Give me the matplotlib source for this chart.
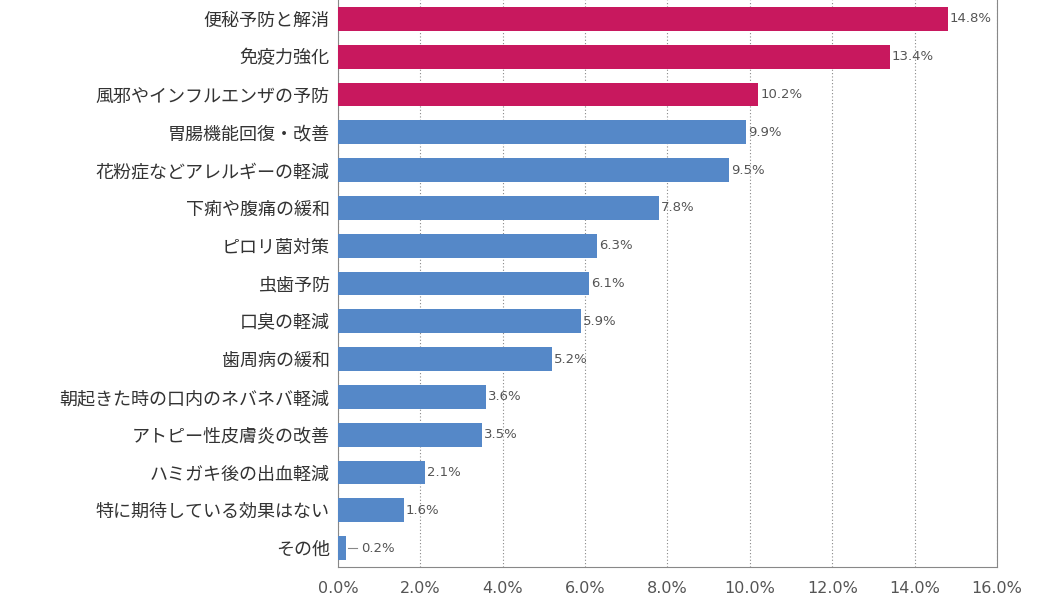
import matplotlib
matplotlib.use("Agg")
import matplotlib.pyplot as plt

categories = ["便秘予防と解消","免疫力強化","風邪やインフルエンザの予防","胃腸機能回復・改善",
              "花粉症などアレルギーの軽減","下痢や腹痛の緩和","ピロリ菌対策","虫歯予防","口臭の軽減",
              "歯周病の緩和","朝起きた時の口内のネバネバ軽減","アトピー性皮膚炎の改善","ハミガキ後の出血軽減",
              "特に期待している効果はない","その他"]
values = [14.8,13.4,10.2,9.9,9.5,7.8,6.3,6.1,5.9,5.2,3.6,3.5,2.1,1.6,0.2]
highlight = 3
xticks = [0,2,4,6,8,10,12,14,16]

plt.rcParams["font.family"] = "Noto Sans CJK JP"
fig = plt.figure(figsize=(10.41,5.99), dpi=100)
ax = fig.add_axes([0.3247,0.0534,0.633,0.9466])
ys = list(range(len(categories)))
colors = ["#C8185E" if i < highlight else "#5588C8" for i in ys]
ax.barh(ys, values, height=0.63, color=colors, zorder=3)
ax.set_ylim(len(categories)-0.5, -0.5)
ax.set_xlim(0,16)
ax.set_yticks(ys)
ax.set_yticklabels(categories, fontsize=13, color="#333333")
ax.set_xticks(xticks)
ax.set_xticklabels([f"{t:.1f}%" for t in xticks], fontsize=11.5, color="#555555", family="DejaVu Sans")
ax.tick_params(axis="both", length=0)
ax.tick_params(axis="x", pad=10)
ax.tick_params(axis="y", pad=6)
ax.grid(axis="x", linestyle=(0,(1,2)), color="#888888", linewidth=0.8, zorder=0)
ax.spines["top"].set_visible(False)
for s in ["left","bottom","right"]:
    ax.spines[s].set_color("#888888")
for i,v in enumerate(values):
    if v < 1:
        ax.plot([v+0.05, v+0.25],[i,i], color="#888888", lw=0.8)
        ax.text(v+0.35, i, f"{v:.1f}%", va="center", ha="left", fontsize=9.5, color="#555555", family="DejaVu Sans")
    else:
        ax.text(v+0.05, i, f"{v:.1f}%", va="center", ha="left", fontsize=9.5, color="#555555", family="DejaVu Sans", zorder=4)
fig.savefig("out.png", dpi=100)
